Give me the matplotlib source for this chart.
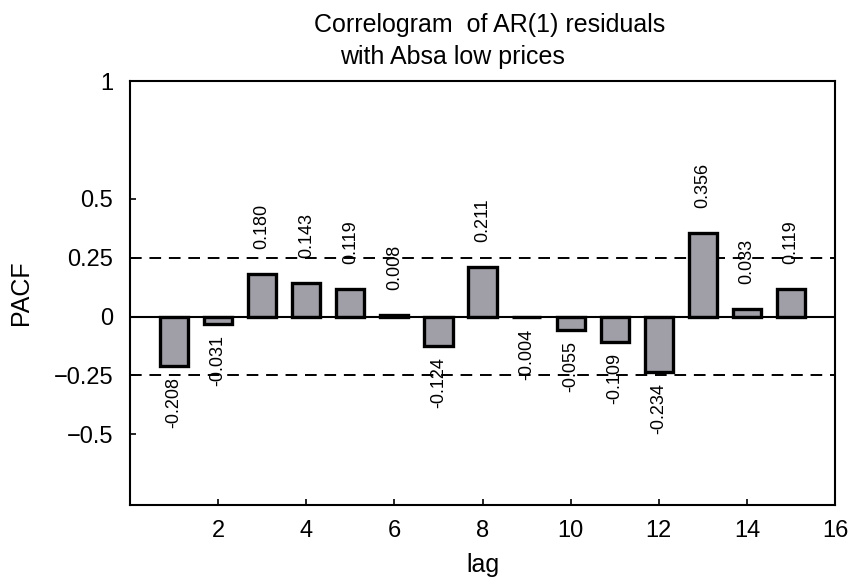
import numpy as np
import matplotlib
matplotlib.use("Agg")
import matplotlib.pyplot as plt

plt.rcParams["font.family"] = ["Liberation Sans", "DejaVu Sans"]

# partial autocorrelations of the AR(1) residuals
lags = np.arange(1, 16)
pacf = [-0.208, -0.031, 0.180, 0.143, 0.119, 0.008, -0.124, 0.211,
        -0.004, -0.055, -0.109, -0.234, 0.356, 0.033, 0.119]
bound = 0.25  # significance band
yticks = [-0.5, -0.25, 0, 0.25, 0.5, 1]
yticklabels = ["\u22120.5", "\u22120.25", "0", "0.25", "0.5", "1"]
xticks = [2, 4, 6, 8, 10, 12, 14, 16]

fig = plt.figure(figsize=(8.51, 5.81), dpi=100)
ax = fig.add_axes([130 / 851, 1 - 505 / 581, 705 / 851, 424 / 581])

ax.bar(lags, pacf, width=0.64, color="#a09fa8", edgecolor="black", linewidth=2.4, zorder=3)
ax.axhline(0, color="black", lw=1.5, zorder=4)
for b in (bound, -bound):
    ax.axhline(b, color="black", lw=1.4, ls=(0, (6, 4)), zorder=2)

for x, v in zip(lags, pacf):
    if v >= 0:
        ax.annotate(f"{v:.3f}", (x, v), xytext=(0, 18), textcoords="offset points",
                    rotation=90, ha="center", va="bottom", fontsize=13, zorder=5)
    else:
        lbl = f"-{abs(v):.3f}"
        ax.annotate(lbl, (x, v), xytext=(0, -8), textcoords="offset points",
                    rotation=90, ha="center", va="top", fontsize=13, zorder=5)

ax.set_xlim(0, 16)
ax.set_ylim(-0.8, 1)
ax.set_xticks(xticks)
ax.set_yticks(yticks)
ax.set_yticklabels(yticklabels)
ax.tick_params(direction="in", length=4, width=1.2, labelsize=17)
ax.tick_params(axis="y", pad=12)
ax.tick_params(axis="x", pad=11)
for s in ax.spines.values():
    s.set_linewidth(1.5)

ax.set_xlabel("lag", fontsize=18, labelpad=8)
ax.set_ylabel("PACF", fontsize=18)
ax.yaxis.set_label_coords(-97 / 705, 0.50)

fig.text(490 / 851, 1 - 25 / 581, "Correlogram  of AR(1) residuals", ha="center", va="center", fontsize=18)
fig.text(452 / 851, 1 - 57 / 581, "with Absa low prices", ha="center", va="center", fontsize=18)

fig.savefig("out.png", dpi=100)
